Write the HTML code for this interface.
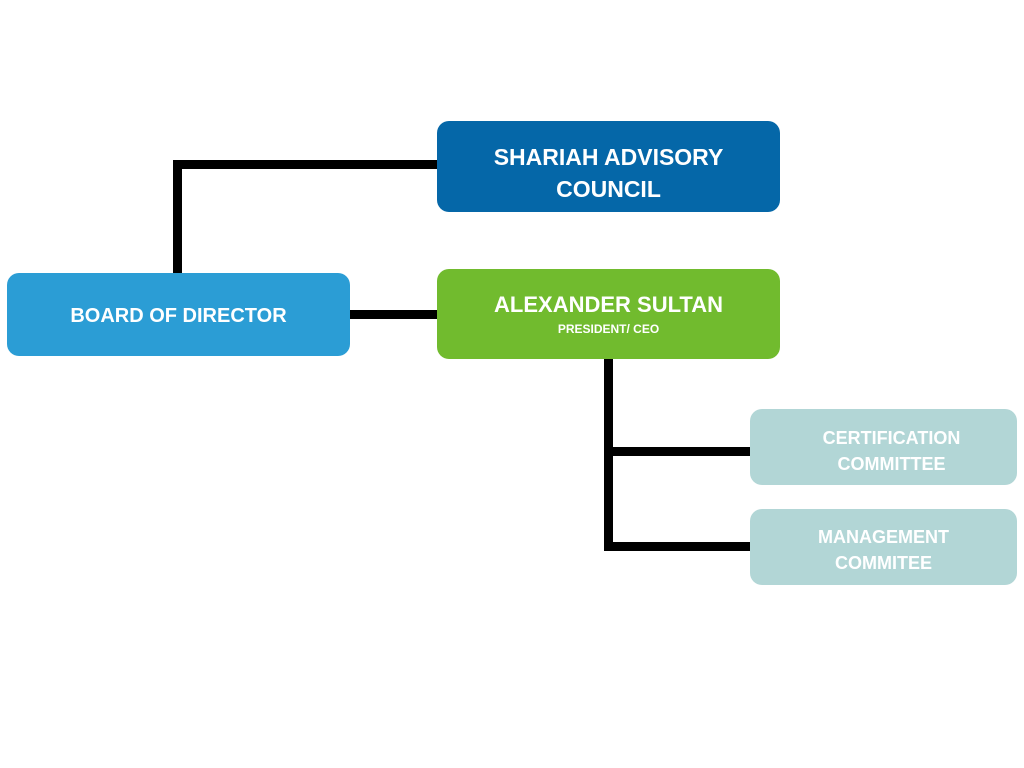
<!DOCTYPE html>
<html><head><style>
body{margin:0;width:1024px;height:768px;background:#fff;position:relative;overflow:hidden;font-family:"Liberation Sans",sans-serif;}
.b{position:absolute;border-radius:12px;color:#fff;font-weight:bold;text-align:center;display:flex;flex-direction:column;justify-content:center;align-items:center;box-sizing:border-box;}
.l{position:absolute;background:#000;}
</style></head><body>
<div class="l" style="left:173px;top:160px;width:9px;height:114px"></div>
<div class="l" style="left:173px;top:160px;width:265px;height:9px"></div>
<div class="l" style="left:349px;top:310px;width:89px;height:9px"></div>
<div class="l" style="left:604px;top:357px;width:9px;height:193px"></div>
<div class="l" style="left:604px;top:447px;width:147px;height:9px"></div>
<div class="l" style="left:604px;top:542px;width:147px;height:9px"></div>
<div class="b" style="left:437px;top:121px;width:343px;height:91px;background:#0567a8;font-size:23px;line-height:32px;padding-top:12px">SHARIAH ADVISORY<br>COUNCIL</div>
<div class="b" style="left:7px;top:273px;width:343px;height:83px;background:#2b9dd5;font-size:20px;padding-top:4px">BOARD OF DIRECTOR</div>
<div class="b" style="left:437px;top:269px;width:343px;height:90px;background:#71bb2e"><div style="font-size:22px">ALEXANDER SULTAN</div><div style="font-size:12px;margin-top:4px">PRESIDENT/ CEO</div></div>
<div class="b" style="left:750px;top:409px;width:267px;height:76px;background:#b2d6d6;font-size:18px;line-height:26px;padding-top:8px;padding-left:16px">CERTIFICATION<br>COMMITTEE</div>
<div class="b" style="left:750px;top:509px;width:267px;height:76px;background:#b2d6d6;font-size:18px;line-height:26px;padding-top:6px">MANAGEMENT<br>COMMITEE</div>
</body></html>
